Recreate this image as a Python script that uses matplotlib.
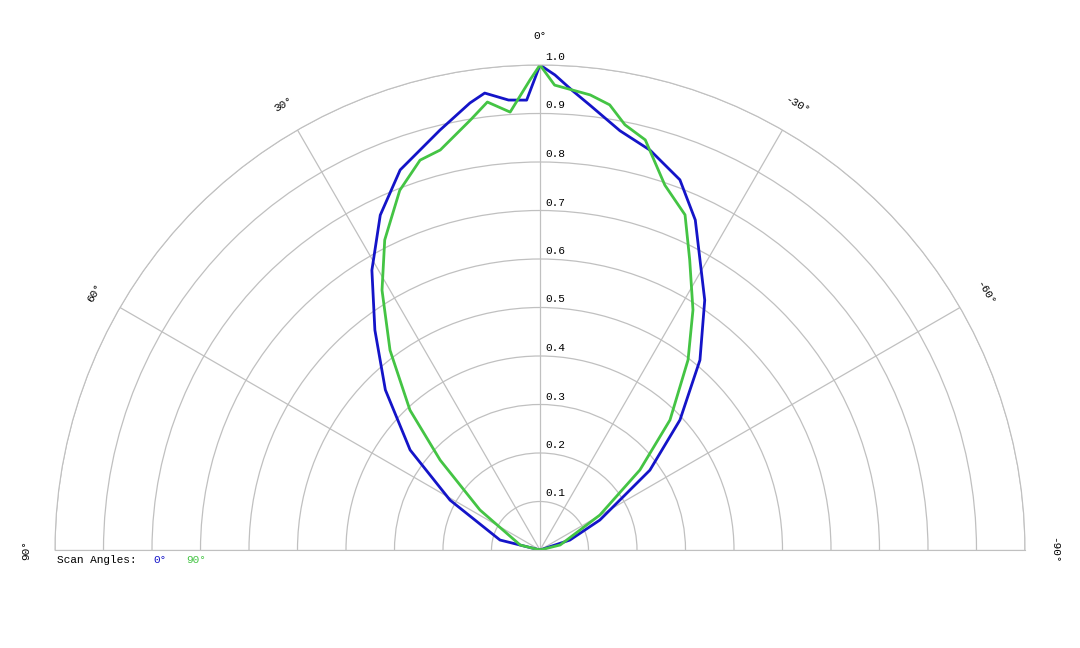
import numpy as np
import matplotlib
matplotlib.use("Agg")
import matplotlib.pyplot as plt
from matplotlib.transforms import offset_copy

# angles in degrees (positive = left of vertical), relative intensity
blue_ang = [90, 76, 61, 52.4, 44, 36.9, 31, 25.5, 20.2, 13.4, 8.9, 6.9, 4.0, 1.7, 0,
            -1.8, -4.0, -6.4, -10.8, -15.4, -20.7, -25.2, -33.4, -40.1, -47.1, -54, -63.4, -71.6, -90]
blue_val = [0.0, 0.085, 0.212, 0.338, 0.459, 0.567, 0.673, 0.765, 0.835, 0.89, 0.933, 0.949, 0.93, 0.928, 1.0,
            0.98, 0.95, 0.923, 0.88, 0.855, 0.816, 0.752, 0.617, 0.512, 0.394, 0.28, 0.138, 0.065, 0.0]

green_ang = [90, 76, 56.3, 48, 42.9, 36.9, 31.3, 26.6, 21.3, 17.1, 14, 9.2, 6.7, 3.9, 1.2, 0,
             -1.8, -6.3, -8.9, -11.3, -14.4, -18.9, -23.4, -27.3, -32.5, -37.9, -45, -51.3, -59.7, -76, -90]
green_val = [0.0, 0.042, 0.149, 0.277, 0.394, 0.515, 0.627, 0.715, 0.796, 0.841, 0.85, 0.898, 0.93, 0.905, 0.97, 1.0,
             0.959, 0.944, 0.929, 0.894, 0.873, 0.795, 0.753, 0.673, 0.587, 0.497, 0.379, 0.264, 0.143, 0.043, 0.0]

r_ticks = [0.1, 0.2, 0.3, 0.4, 0.5, 0.6, 0.7, 0.8, 0.9, 1.0]
theta_ticks = [90, 60, 30, 0, -30, -60, -90]

blue = "#1414c8"
green = "#44c444"
mono = "Liberation Mono"

fig = plt.figure(figsize=(10.8, 6.48), dpi=100)
# square box of side 970 px; the half disk sits vertically centred in it
ax = fig.add_axes([55 / 1080, -144.5 / 648, 970 / 1080, 970 / 648], projection="polar")
ax.set_theta_zero_location("N")
ax.set_theta_direction(1)
ax.set_thetamin(-90)
ax.set_thetamax(90)
ax.set_ylim(0, 1.0)

ax.plot(np.radians(blue_ang), blue_val, color=blue, lw=2)
ax.plot(np.radians(green_ang), green_val, color=green, lw=2)

ax.set_yticks(r_ticks)
ax.set_yticklabels([])
ax.set_xticks(np.radians(theta_ticks))
ax.set_xticklabels([])
ax.grid(color="#c0c0c0", lw=0.9)
for s in ["polar", "start", "end"]:
    ax.spines[s].set_color("#c0c0c0")

lab_tr = offset_copy(ax.transData, fig=fig, x=5, y=3, units="dots")
for v in r_ticks:
    ax.text(0, v, f"{v:.1f}", transform=lab_tr, ha="left", va="bottom",
            fontfamily=mono, fontsize=8)

for t in theta_ticks:
    ax.text(np.radians(t), 1.06, f"{t}°", rotation=t, ha="center", va="center",
            fontfamily=mono, fontsize=8, clip_on=False)

fig.text(57 / 1080, 1 - 560 / 648, "Scan Angles:", fontfamily=mono, fontsize=8, va="center")
fig.text(153 / 1080, 1 - 560 / 648, "0°", fontfamily=mono, fontsize=8, va="center", color=blue)
fig.text(186 / 1080, 1 - 560 / 648, "90°", fontfamily=mono, fontsize=8, va="center", color=green)

fig.savefig("out.png", dpi=100)
